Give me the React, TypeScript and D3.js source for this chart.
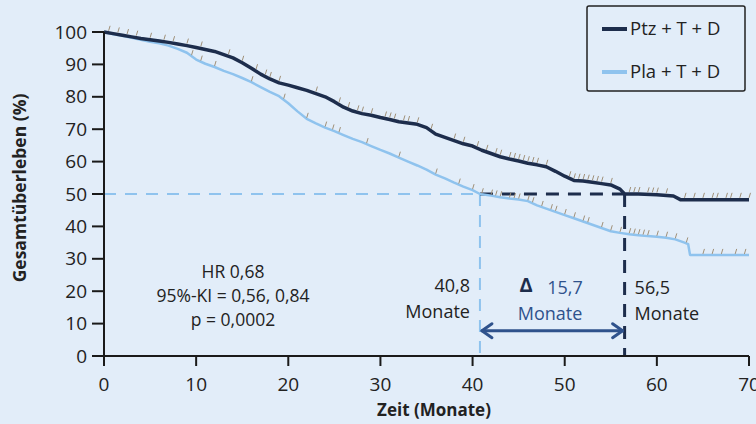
import React from 'react';
import * as d3 from 'd3';

// Kaplan-Meier Gesamtüberleben, Ptz + T + D vs. Pla + T + D
const ptzTimes = [0, 1, 2, 3, 4, 5, 6, 7, 8, 9, 10, 11, 12, 13, 14, 15, 16, 17, 18, 19, 20, 21, 22, 23, 24, 25, 26, 27, 28, 29, 30, 31, 32, 33, 34, 35, 36, 37, 38, 39, 40, 41, 42, 43, 44, 45, 46, 47, 48, 49, 50, 51, 52, 53, 54, 55, 56, 56.5, 58, 60, 61.8, 62.6, 70];
const ptzSurv = [100, 99.5, 99, 98.5, 98, 97.6, 97.2, 96.8, 96.3, 95.8, 95.2, 94.6, 94, 93, 92, 90.5, 88.8, 87, 85.5, 84.3, 83.6, 82.8, 82, 81, 80, 78.5, 76.8, 75.6, 74.8, 74.3, 73.6, 73, 72.3, 71.9, 71.5, 70.5, 68.5, 67.5, 66.5, 65.5, 64.8, 63.5, 62.5, 61.5, 60.8, 60.2, 59.5, 59, 58.4, 57, 55.5, 54.2, 54, 53.6, 53.2, 52.8, 51.5, 50, 50, 49.8, 49.4, 48.2, 48.2];

const plaTimes = [0, 1, 2, 3, 4, 5, 6, 7, 8, 9, 10, 11, 12, 13, 14, 15, 16, 17, 18, 19, 20, 21, 22, 23, 24, 25, 26, 27, 28, 29, 30, 31, 32, 33, 34, 35, 36, 37, 38, 39, 40, 40.8, 42, 43, 44, 45, 46, 47, 48, 49, 50, 51, 52, 53, 54, 55, 56, 57, 58, 59, 60, 61, 62, 63, 63.4, 63.6, 70];
const plaSurv = [100, 99.3, 98.8, 98.2, 97.6, 97, 96.5, 95.8, 94.8, 93.6, 91.5, 90.2, 89.2, 88, 87, 85.8, 84.5, 83, 81.5, 80.2, 78, 75.5, 73.2, 71.8, 70.5, 69.4, 68.2, 67, 66, 64.8, 63.6, 62.5, 61.2, 60, 58.8, 57.5, 56, 54.8, 53.5, 52.3, 51.2, 50, 49.5, 49, 48.6, 48.3, 47.8, 46.5, 45.5, 44.5, 43.5, 42.5, 41.5, 40.5, 39.5, 38.5, 38, 37.6, 37.3, 37, 36.8, 36.5, 36, 35, 34.5, 31.2, 31.2];

// zensierte Beobachtungen (Monate)
const ptzCensored = [0.5, 1.5, 2.5, 3.5, 5, 6.5, 7.5, 9, 10.5, 13.5, 15, 16.5, 17.5, 18, 19, 23, 25.5, 26.5, 27.5, 28, 29, 30.5, 31, 31.5, 32.5, 33, 34, 35.5, 38, 39, 40.5, 41.5, 42.5, 43, 44, 44.5, 45, 45.5, 46, 46.5, 47, 48, 50.5, 51, 51.5, 52, 52.5, 53, 53.5, 54, 55, 57, 57.5, 58, 59, 59.5, 60, 61, 63, 64, 65, 66, 66.5, 67.5, 68, 69, 70];
const plaCensored = [9.5, 10.5, 12, 16, 19.5, 22, 24, 24.8, 25.5, 28.5, 32, 36, 38.5, 40, 41, 42, 42.5, 43, 44, 44.5, 45, 46, 46.5, 47.5, 48.5, 49, 50, 51, 52, 52.5, 54, 55, 56, 57, 57.5, 58, 58.5, 59, 60, 61, 62, 63.2, 65, 66, 67, 68.5, 69.5];

const xTicks = [0, 10, 20, 30, 40, 50, 60, 70];
const yTicks = [0, 10, 20, 30, 40, 50, 60, 70, 80, 90, 100];

const medianPla = 40.8;
const medianPtz = 56.5;
const statsLines = ['HR 0,68', '95%-KI = 0,56, 0,84', 'p = 0,0002'];

const width = 756;
const height = 424;
const left = 104;
const right = 749;
const top = 32;
const bottom = 356;

const bg = '#e2edf9';
const darkBlue = '#1d2d4c';
const lightBlue = '#8fc3ee';
const arrowBlue = '#2f528c';
const censorColor = '#a09078';
const font = '"Open Sans", sans-serif';

function survAt(times: number[], surv: number[], t: number) {
  return d3.scaleLinear().domain(times).range(surv)(t);
}

export default function App() {
  const x = d3.scaleLinear().domain([0, 70]).range([left, right]);
  const y = d3.scaleLinear().domain([0, 100]).range([bottom, top]);

  const line = d3.line<[number, number]>()
    .x(d => x(d[0]))
    .y(d => y(d[1]))
    .curve(d3.curveLinear);

  const ptzPath = line(ptzTimes.map((t, i) => [t, ptzSurv[i]] as [number, number])) || '';
  const plaPath = line(plaTimes.map((t, i) => [t, plaSurv[i]] as [number, number])) || '';

  const y50 = y(50);
  const arrowY = y(7.8);

  return (
    <svg width={width} height={height} style={{ position: 'absolute', left: 0, top: 0, background: bg }}>
      <rect x={0} y={0} width={width} height={height} fill={bg} />

      {/* Median-Hilfslinien */}
      <line x1={x(0)} x2={x(medianPla)} y1={y50} y2={y50} stroke={lightBlue} strokeWidth={2} strokeDasharray="12,9" />
      <line x1={x(medianPla)} x2={x(medianPla)} y1={y50} y2={y(0)} stroke={lightBlue} strokeWidth={2} strokeDasharray="12,9" />
      <line x1={x(medianPla)} x2={x(medianPtz)} y1={y50} y2={y50} stroke={darkBlue} strokeWidth={3} strokeDasharray="13,9" />
      <line x1={x(medianPtz)} x2={x(medianPtz)} y1={y50} y2={y(0)} stroke={darkBlue} strokeWidth={3} strokeDasharray="13,9" />

      {/* Kurven */}
      <path d={plaPath} fill="none" stroke={lightBlue} strokeWidth={2.5} strokeLinejoin="round" />
      <path d={ptzPath} fill="none" stroke={darkBlue} strokeWidth={3.5} strokeLinejoin="round" />

      {plaCensored.map((t, i) => {
        const cy = y(survAt(plaTimes, plaSurv, t));
        return <line key={'pc' + i} x1={x(t)} x2={x(t) + 1.5} y1={cy - 1} y2={cy - 6} stroke={censorColor} strokeWidth={1} />;
      })}
      {ptzCensored.map((t, i) => {
        const cy = y(survAt(ptzTimes, ptzSurv, t));
        return <line key={'dc' + i} x1={x(t)} x2={x(t) + 1.5} y1={cy - 2} y2={cy - 7} stroke={censorColor} strokeWidth={1} />;
      })}

      {/* Achsen */}
      <g fontFamily={font} fontSize={19} fill="#222">
        <line x1={left} x2={left} y1={top} y2={bottom} stroke="#1a1a1a" strokeWidth={2} />
        <line x1={left} x2={right} y1={bottom} y2={bottom} stroke="#1a1a1a" strokeWidth={2} />
        {yTicks.map(t => (
          <g key={'y' + t}>
            <line x1={left - 12} x2={left} y1={y(t)} y2={y(t)} stroke="#1a1a1a" strokeWidth={2} />
            <text x={left - 17} y={y(t)} dy="0.35em" textAnchor="end">{t}</text>
          </g>
        ))}
        {xTicks.map(t => (
          <g key={'x' + t}>
            <line x1={x(t)} x2={x(t)} y1={bottom} y2={bottom + 10} stroke="#1a1a1a" strokeWidth={2} />
            <text x={x(t)} y={bottom + 28} dy="0.35em" textAnchor="middle">{t}</text>
          </g>
        ))}
        <text x={434} y={410} dy="0.35em" textAnchor="middle" fontWeight="bold" fontSize={17}>Zeit (Monate)</text>
        <text transform={`translate(20,188) rotate(-90)`} dy="0.35em" textAnchor="middle" fontWeight="bold" fontSize={17.5}>Gesamtüberleben (%)</text>
      </g>

      {/* Statistik */}
      <g fontFamily={font} fontSize={17.5} fill="#222" textAnchor="middle">
        {statsLines.map((s, i) => (
          <text key={s} x={233} y={272 + i * 24} dy="0.35em">{s}</text>
        ))}
      </g>

      {/* Median-Beschriftungen */}
      <g fontFamily={font} fontSize={18} fill="#222">
        <text x={x(medianPla) - 10} y={286} dy="0.35em" textAnchor="end">40,8</text>
        <text x={x(medianPla) - 10} y={312} dy="0.35em" textAnchor="end">Monate</text>
        <text x={x(medianPtz) + 10} y={288} dy="0.35em">56,5</text>
        <text x={x(medianPtz) + 10} y={314} dy="0.35em">Monate</text>
        <text x={526} y={285} dy="0.35em" textAnchor="middle" fontWeight="bold" fill={darkBlue} fontSize={20}>Δ</text>
        <text x={565} y={288} dy="0.35em" textAnchor="middle" fill={arrowBlue}>15,7</text>
        <text x={550} y={314} dy="0.35em" textAnchor="middle" fill={arrowBlue}>Monate</text>
      </g>

      {/* Doppelpfeil */}
      <g stroke={arrowBlue} strokeWidth={3} fill="none" strokeLinecap="round" strokeLinejoin="round">
        <line x1={x(medianPla) + 2} x2={x(medianPtz) - 2} y1={arrowY} y2={arrowY} />
        <polyline points={`${x(medianPla) + 12},${arrowY - 7} ${x(medianPla) + 2},${arrowY} ${x(medianPla) + 12},${arrowY + 7}`} />
        <polyline points={`${x(medianPtz) - 12},${arrowY - 7} ${x(medianPtz) - 2},${arrowY} ${x(medianPtz) - 12},${arrowY + 7}`} />
      </g>

      {/* Legende */}
      <g fontFamily={font} fontSize={18.5} fill="#222">
        <rect x={587} y={6} width={158} height={85} fill={bg} stroke="#222" strokeWidth={1.5} rx={2} />
        <line x1={602} x2={627} y1={29} y2={29} stroke={darkBlue} strokeWidth={4} />
        <text x={630} y={29} dy="0.35em">Ptz + T + D</text>
        <line x1={602} x2={627} y1={72} y2={72} stroke={lightBlue} strokeWidth={4} />
        <text x={630} y={72} dy="0.35em">Pla + T + D</text>
      </g>
    </svg>
  );
}
